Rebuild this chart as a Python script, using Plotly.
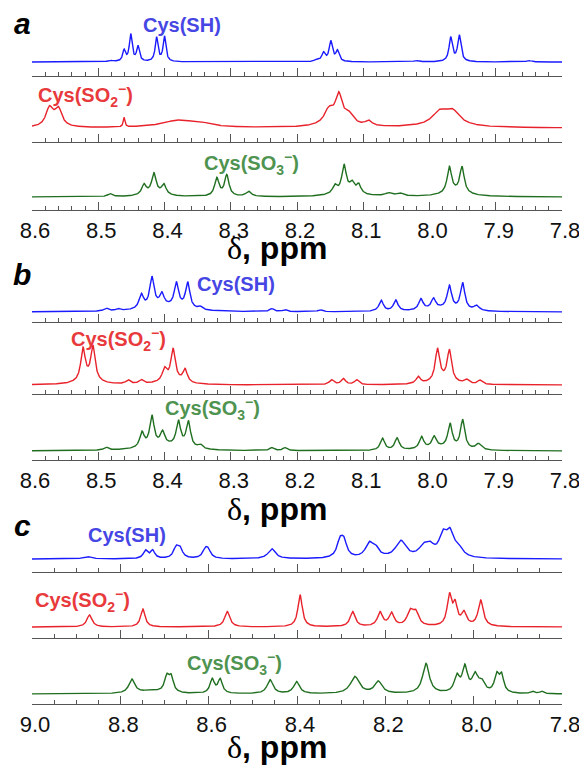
import numpy as np
import plotly.graph_objects as go

# ---------------- data: peak lists (ppm, relative height, half width) ----------------
# panel a
a_sh_ppm = [8.482, 8.461, 8.451, 8.440, 8.412, 8.400, 8.170, 8.160, 8.149, 8.139, 8.020, 7.968, 7.955, 7.850]
a_sh_h   = [1.5, 11, 27, 15, 24, 25, 2, 8.5, 20, 10.5, 1.5, 24, 26, 1.5]
a_sh_w   = [0.004, 0.0025, 0.0025, 0.0025, 0.0025, 0.0025, 0.004, 0.003, 0.003, 0.003, 0.004, 0.003, 0.003, 0.004]

a_so2_ppm = [8.574, 8.560, 8.567, 8.461, 8.380, 8.345, 8.152, 8.137, 8.122, 8.140, 8.092, 7.985, 7.965, 7.975]
a_so2_h   = [16, 15, 5, 9.5, 7, 3, 13, 26, 9, 5, 5, 10, 11, 6]
a_so2_w   = [0.006, 0.006, 0.012, 0.0015, 0.03, 0.02, 0.008, 0.006, 0.008, 0.025, 0.006, 0.012, 0.012, 0.03]

a_so3_ppm = [8.482, 8.431, 8.416, 8.401, 8.416, 8.321, 8.306, 8.273, 8.143, 8.129, 8.117, 8.107, 8.125, 8.062, 8.045, 7.970, 7.951, 7.960]
a_so3_h   = [3, 10, 20, 10, 3, 18, 21, 5, 8, 27, 9, 9, 4, 3, 3, 26, 26, 4]
a_so3_w   = [0.004, 0.004, 0.004, 0.004, 0.02, 0.004, 0.004, 0.005, 0.004, 0.004, 0.004, 0.004, 0.025, 0.006, 0.006, 0.004, 0.004, 0.025]

# panel b
b_sh_ppm = [8.488, 8.470, 8.435, 8.419, 8.404, 8.382, 8.365, 8.346, 8.400, 8.238, 8.218, 8.165,
            8.073, 8.051, 8.013, 7.994, 7.970, 7.950, 7.929, 7.985]
b_sh_h   = [3, 2, 14, 30, 12, 24, 26, 3, 5, 3, 2, 2, 11, 11, 11, 10, 23, 27, 5, 3]
b_sh_w   = [0.004, 0.004, 0.004, 0.004, 0.004, 0.004, 0.004, 0.004, 0.035, 0.004, 0.004, 0.004,
            0.004, 0.004, 0.004, 0.004, 0.004, 0.004, 0.005, 0.03]

b_so2_ppm = [8.523, 8.508, 8.515, 8.455, 8.435, 8.400, 8.387, 8.369, 8.390, 8.148, 8.130, 8.110,
             8.017, 7.988, 7.970, 7.980, 7.944, 7.924]
b_so2_h   = [32, 34, 4, 4, 4, 12, 31, 13, 4, 5, 6, 5, 7, 32, 31, 4, 4, 4]
b_so2_w   = [0.004, 0.004, 0.02, 0.004, 0.004, 0.004, 0.004, 0.004, 0.02, 0.004, 0.004, 0.004,
             0.004, 0.004, 0.004, 0.02, 0.004, 0.004]

b_so3_ppm = [8.488, 8.434, 8.419, 8.403, 8.379, 8.364, 8.346, 8.400, 8.238, 8.218,
             8.071, 8.049, 8.012, 7.993, 7.969, 7.950, 7.926, 7.985]
b_so3_h   = [3, 15, 30, 13, 25, 26, 4, 5, 3, 3, 12, 12, 12, 11, 24, 29, 6, 3]
b_so3_w   = [0.004, 0.004, 0.004, 0.004, 0.004, 0.004, 0.004, 0.035, 0.004, 0.004,
             0.004, 0.004, 0.004, 0.004, 0.004, 0.004, 0.005, 0.03]

# panel c
c_sh_ppm = [8.875, 8.743, 8.727, 8.674, 8.665, 8.608, 8.601, 8.457, 8.303, 8.294, 8.237, 8.223,
            8.165, 8.114, 8.099, 8.070, 8.054, 8.035]
c_sh_h   = [2.5, 8, 8, 10, 9, 8, 7, 10, 15, 15, 13, 9, 17, 9, 10, 20, 22, 9]
c_sh_w   = [0.01, 0.006, 0.006, 0.007, 0.007, 0.007, 0.007, 0.01, 0.008, 0.008, 0.01, 0.01,
            0.014, 0.012, 0.012, 0.01, 0.01, 0.012]

c_so2_ppm = [8.870, 8.749, 8.558, 8.393, 8.274, 8.212, 8.186, 8.144, 8.131, 8.055, 8.042, 8.022, 7.984]
c_so2_h   = [12, 18, 15.5, 32, 15, 14, 13, 14, 13, 30, 20, 13, 26]
c_so2_w   = [0.007, 0.006, 0.007, 0.006, 0.007, 0.007, 0.007, 0.008, 0.008, 0.006, 0.006, 0.007, 0.007]

c_so3_ppm = [8.774, 8.730, 8.695, 8.685, 8.592, 8.574, 8.461, 8.401, 8.269, 8.216, 8.108, 8.038,
             8.020, 7.997, 7.982, 7.948, 7.937, 7.867, 7.846]
c_so3_h   = [14, 3, 15, 15, 14, 14, 14, 12, 17, 12, 30, 16, 25, 17, 10, 17, 17, 2.5, 2.5]
c_so3_w   = [0.008, 0.03, 0.006, 0.006, 0.006, 0.006, 0.008, 0.008, 0.012, 0.01, 0.009, 0.007,
             0.007, 0.008, 0.008, 0.006, 0.006, 0.005, 0.005]

labels = ["Cys(SH)", "Cys(SO<sub>2</sub><sup>\u2212</sup>)", "Cys(SO<sub>3</sub><sup>\u2212</sup>)"]
panel_letters = ["a", "b", "c"]
ab_ticks = [8.6, 8.5, 8.4, 8.3, 8.2, 8.1, 8.0, 7.9, 7.8]
c_ticks = [9.0, 8.8, 8.6, 8.4, 8.2, 8.0, 7.8]

# ---------------- styling / geometry ----------------
W, H = 579, 767
XL, XR = 32, 562
line_cols = ["#1a1aff", "#e8222b", "#206f20"]
label_cols = ["#4646e4", "#e83a3c", "#4f9350"]

# (axis pixel, baseline offset px) per spectrum
geom = [
    [(76, 14), (142, 14), (210, 13)],
    [(322, 10), (394, 9), (460, 9)],
    [(572, 13), (638, 11), (704, 10)],
]
label_pos = [
    [(182, 25), (85, 95), (251, 163)],
    [(236, 284), (118, 339), (213, 408)],
    [(127, 535), (82, 600), (234, 663)],
]
letter_pos = [(22, 24), (22, 274), (22, 525)]
title_y = [248, 509, None]   # last one sits on the bottom edge

spectra = [
    [(a_sh_ppm, a_sh_h, a_sh_w), (a_so2_ppm, a_so2_h, a_so2_w), (a_so3_ppm, a_so3_h, a_so3_w)],
    [(b_sh_ppm, b_sh_h, b_sh_w), (b_so2_ppm, b_so2_h, b_so2_w), (b_so3_ppm, b_so3_h, b_so3_w)],
    [(c_sh_ppm, c_sh_h, c_sh_w), (c_so2_ppm, c_so2_h, c_so2_w), (c_so3_ppm, c_so3_h, c_so3_w)],
]


def lorentz_sum(x, pos, hts, wid):
    y = np.zeros_like(x)
    for p, h, w in zip(pos, hts, wid):
        y += h / (1.0 + ((x - p) / w) ** 2)
    return y


def py2paper(py):
    return min(1.0, max(0.0, 1 - py / H))


fig = go.Figure()
layout = dict(
    width=W, height=H, margin=dict(l=0, r=0, t=0, b=0, pad=0, autoexpand=False),
    paper_bgcolor="white", plot_bgcolor="rgba(0,0,0,0)", showlegend=False,
)
annotations = []
SPAN = 70
idx = 0
for p in range(3):
    if p < 2:
        rng = [8.6, 7.8]
        ticks = ab_ticks
        minor_vals = [round(7.8 + 0.02 * k, 2) for k in range(41) if k % 5 != 0]
    else:
        rng = [9.0, 7.8]
        ticks = c_ticks
        minor_vals = [round(7.8 + 0.05 * k, 2) for k in range(25) if k % 4 != 0]
    x = np.linspace(rng[0], rng[1], 3000)
    for s in range(3):
        idx += 1
        ax_px, off = geom[p][s]
        span = min(SPAN, ax_px - 1)
        pos, hts, wid = spectra[p][s]
        y = lorentz_sum(x, pos, hts, wid)
        xa = "x" if idx == 1 else f"x{idx}"
        ya = "y" if idx == 1 else f"y{idx}"
        fig.add_trace(go.Scatter(x=x, y=y, mode="lines", xaxis=xa, yaxis=ya,
                                 line=dict(color=line_cols[s], width=1.4), hoverinfo="skip"))
        key = "" if idx == 1 else str(idx)
        bottom = s == 2
        layout[f"xaxis{key}"] = dict(
            domain=[XL / W, XR / W], anchor=ya, range=rng, automargin=False,
            showline=True, linecolor="#555555", linewidth=1.4,
            ticks="inside", ticklen=8, tickwidth=1.3, tickcolor="#555555",
            tickmode="array", tickvals=ticks,
            showticklabels=bottom, tickformat=".1f", ticklabelshift=-3, ticklabelstandoff=0,
            ticklabeloverflow="allow",
            tickfont=dict(family="Liberation Sans, Arial, sans-serif", size=22, color="#111111"),
            minor=dict(ticks="inside", ticklen=4, tickwidth=1.1, tickcolor="#555555",
                       tickmode="array", tickvals=minor_vals, showgrid=False),
            showgrid=False, zeroline=False, fixedrange=True,
        )
        layout[f"yaxis{key}"] = dict(
            domain=[py2paper(ax_px), py2paper(ax_px - span)], anchor=xa, automargin=False,
            range=[-off, span - off], visible=False, fixedrange=True,
        )
        lx, ly = label_pos[p][s]
        annotations.append(dict(
            x=lx / W, y=py2paper(ly), xref="paper", yref="paper", showarrow=False,
            text=f"<b>{labels[s]}</b>", xanchor="center", yanchor="middle",
            font=dict(family="Liberation Sans, Arial, sans-serif", size=20, color=label_cols[s]),
        ))
    lx, ly = letter_pos[p]
    annotations.append(dict(
        x=lx / W, y=py2paper(ly), xref="paper", yref="paper", showarrow=False,
        text=f"<b><i>{panel_letters[p]}</i></b>", xanchor="center", yanchor="middle",
        font=dict(family="Liberation Sans, Arial, sans-serif", size=30, color="black"),
    ))
    ty = title_y[p]
    annotations.append(dict(
        x=277 / W, y=0.0 if ty is None else py2paper(ty), xref="paper", yref="paper", showarrow=False,
        text="<span style='font-family:Liberation Serif;font-weight:normal'>\u03b4</span><b>, ppm</b>",
        xanchor="center", yanchor="bottom" if ty is None else "middle",
        font=dict(family="Liberation Sans, Arial, sans-serif", size=32, color="black"),
    ))

layout["annotations"] = annotations
fig.update_layout(**layout)
fig.write_html("out.html")
